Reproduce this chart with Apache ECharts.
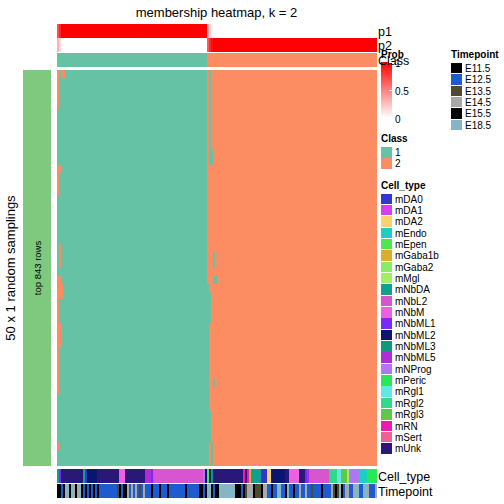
<!DOCTYPE html>
<html><head><meta charset="utf-8">
<script src="https://cdn.jsdelivr.net/npm/echarts@6/dist/echarts.min.js"></script>
<style>html,body{margin:0;padding:0;background:#fff}#c{width:504px;height:504px}#c svg path,#c svg rect{shape-rendering:crispEdges}</style>
</head><body><div id="c"></div>
<script>
const FONT = '"Liberation Sans", Arial, Helvetica, sans-serif';
const chartTitle = 'membership heatmap, k = 2';
const rowTitle = '50 x 1 random samplings';
const rowAnnotationLabel = 'top 843 rows';
const nRows = 50;

// per-sample (column) data, run-length encoded [value, count]
const p1Runs = [[0.7,1],[0.85,1],[1,73],[0.35,1],[0.15,1],[0.05,1],[0,82]];
const p2Runs = [[0.3,1],[0.15,1],[0,73],[0.65,1],[0.85,1],[0.95,1],[1,82]];
const classRuns = [[1,75],[2,85]];
// samplings whose class differs from consensus: [rowFrom,rowTo,colFrom,colTo,class]
const rowDeviations = [
  [0,4,0,0,2],[0,0,2,3,2],[12,12,0,1,2],[13,15,0,0,2],[22,24,1,1,2],[26,28,0,1,2],
  [27,28,2,2,2],[29,31,0,0,2],[32,34,0,1,2],[35,40,0,0,2],[47,47,0,0,2],
  [0,9,76,76,1],[10,11,76,77,1],[23,24,78,78,1],[26,26,78,79,1],[27,27,75,75,1],
  [28,31,75,76,1],[32,42,75,75,1],[39,39,78,78,1],[43,46,75,76,1],[47,49,75,75,1],[47,49,77,77,1]
];

const cellTypeNames = ['mDA0','mDA1','mDA2','mEndo','mEpen','mGaba1b','mGaba2','mMgl','mNbDA','mNbL2','mNbM','mNbML1','mNbML2','mNbML3','mNbML5','mNProg','mPeric','mRgl1','mRgl2','mRgl3','mRN','mSert','mUnk'];
const cellTypeColors = ['#3535CF','#D93DF0','#F8D26A','#19D0C4','#4EE84E','#D8B02E','#8BEB66','#A2F062','#0FA08E','#D855D0','#EE60E0','#7A2AF8','#0A1570','#109878','#B02CD8','#B078F0','#28E858','#62E8E4','#30DA8A','#60C848','#F01AB0','#F06098','#2A1878'];
const cellTypeRuns = [['mNbDA',1],['mNbML1',1],['mUnk',11],['mNbDA',1],['mDA0',1],['mNbML2',5],['mUnk',11],['mNbM',3],['mUnk',10],['mNbML5',3],['mNbML1',1],['mNbL2',25],['mNProg',1],['mNbML2',1],['mEpen',1],['mUnk',1],['mNbML3',1],['mUnk',15],['mRN',1],['mUnk',1],['mRN',1],['mGaba1b',1],['mNbDA',5],['mDA0',3],['mDA2',2],['mNbML2',7],['mUnk',2],['mNbM',5],['mUnk',3],['mNbML1',1],['mNbML5',1],['mNbL2',10],['mRgl2',4],['mRgl1',2],['mRgl3',3],['mMgl',1],['mNProg',5],['mEndo',4],['mPeric',5]];

const timepointNames = ['E11.5','E12.5','E13.5','E14.5','E15.5','E18.5'];
const timepointColors = ['#000000','#1F5BD0','#4F4B33','#A8A8A8','#060606','#84B6C6'];
const timepointRuns = [['E11.5',2],['E12.5',1],['E11.5',1],['E18.5',2],['E11.5',1],['E18.5',1],['E14.5',1],['E11.5',1],['E14.5',1],['E18.5',1],['E11.5',1],['E12.5',1],['E11.5',1],['E12.5',1],['E15.5',1],['E12.5',1],['E11.5',1],['E12.5',1],['E11.5',1],
 ['E12.5',9],['E13.5',1],['E11.5',1],['E12.5',1],['E11.5',2],['E14.5',1],['E12.5',1],['E14.5',1],['E12.5',1],['E14.5',1],['E12.5',1],['E13.5',1],['E12.5',1],['E14.5',1],['E12.5',3],['E11.5',1],['E12.5',3],['E15.5',1],['E12.5',3],['E11.5',1],['E12.5',8],['E11.5',1],['E12.5',6],['E11.5',2],['E12.5',1],['E11.5',1],['E18.5',2],['E11.5',1],['E12.5',1],['E11.5',2],['E18.5',8],['E11.5',3],['E12.5',1],['E11.5',1],['E13.5',1],['E14.5',3],['E11.5',1],['E13.5',3],['E11.5',1],['E14.5',2],
 ['E12.5',2],['E11.5',1],['E12.5',2],['E18.5',2],['E12.5',2],['E11.5',1],['E18.5',1],['E12.5',2],['E11.5',1],['E12.5',2],['E14.5',1],['E12.5',2],['E14.5',1],['E12.5',2],['E13.5',1],['E12.5',4],['E11.5',1],['E12.5',4],['E14.5',1],['E13.5',1],['E11.5',1],['E13.5',1],['E18.5',1],['E11.5',1],['E12.5',1],['E14.5',2],['E12.5',2],['E14.5',1],['E18.5',2],['E12.5',2],['E18.5',2],['E14.5',1],['E12.5',3],['E14.5',1]];

const classNames = ['1','2'];
const classColors = ['#66C2A5','#FC8D62'];
const rowAnnoColor = '#7FC97F';

function expand(runs){const out=[];runs.forEach(([v,n])=>{for(let i=0;i<n;i++)out.push(v);});return out;}
const p1 = expand(p1Runs), p2 = expand(p2Runs), cls = expand(classRuns);
const cellTypes = expand(cellTypeRuns), timepoints = expand(timepointRuns);
const N = cls.length;
const colCats = Array.from({length:N},(_,i)=>'c'+i);
const rowCats = Array.from({length:nRows},(_,i)=>'r'+i);
const M = rowCats.map(()=>cls.slice());
rowDeviations.forEach(([r0,r1,c0,c1,k])=>{for(let r=r0;r<=r1;r++)for(let c=c0;c<=c1;c++)M[r][c]=k;});

// white -> red ramp for membership probability
function probColor(p){const g=Math.round(255*(1-p));return 'rgb(255,'+g+','+g+')';}
const cell=(x,y,v,color)=>({value:[x,y,v],itemStyle:{color,borderWidth:0}});

const probData=[]; for(let c=0;c<N;c++){probData.push(cell(c,0,p1[c],probColor(p1[c])));probData.push(cell(c,1,p2[c],probColor(p2[c])));}
const classData=cls.map((v,c)=>cell(c,0,v,classColors[v-1]));
const bodyData=[]; M.forEach((row,r)=>row.forEach((v,c)=>bodyData.push(cell(c,r,v,classColors[v-1]))));
const ctData=cellTypes.map((v,c)=>{const k=cellTypeNames.indexOf(v);return cell(c,0,k,cellTypeColors[k]);});
const tpData=timepoints.map((v,c)=>{const k=timepointNames.indexOf(v);return cell(c,0,k,timepointColors[k]);});
const rowAnnoData=[cell(0,0,1,rowAnnoColor)];

const L=57, W=320;
const grids=[
  {left:L,width:W,top:24,height:28},
  {left:L,width:W,top:53,height:14},
  {left:L,width:W,top:70,height:396},
  {left:L,width:W,top:469,height:14},
  {left:L,width:W,top:484,height:14},
  {left:23,width:28,top:70,height:396}
];
const xAxes=grids.map((g,i)=>({type:'category',gridIndex:i,data:i===5?['a']:colCats,show:false}));
const yAxes=grids.map((g,i)=>({type:'category',gridIndex:i,inverse:true,show:false,
  data:i===0?['p1','p2']:(i===2?rowCats:['a'])}));
const hm=(i,data)=>({type:'heatmap',xAxisIndex:i,yAxisIndex:i,data,progressive:0,
  emphasis:{disabled:true},silent:true,z:2});

const graphic=[];
const txt=(x,y,text,size,opts={})=>graphic.push(Object.assign({type:'text',x,y,silent:true,z:100,
  style:{text,font:(opts.bold?'bold ':'')+size+'px '+FONT,fill:'#000',align:opts.align||'left',verticalAlign:'middle'}},opts.rot?{rotation:opts.rot}:{}));
const box=(x,y,w,h,color)=>graphic.push({type:'rect',silent:true,z:100,shape:{x,y,width:w,height:h},style:{fill:color}});

txt(216.5,12,chartTitle,13,{align:'center'});
txt(10,268,rowTitle,13,{align:'center',rot:Math.PI/2});
txt(37,268,rowAnnotationLabel,9.5,{align:'center',rot:Math.PI/2});
txt(378,32,'p1',12.5);
txt(378,46,'p2',12.5);
txt(378,61,'Class',12.5);
txt(378,477,'Cell_type',12.5);
txt(378,492,'Timepoint',12.5);

// Prob legend
txt(381,54,'Prob',10,{bold:true});
graphic.push({type:'rect',silent:true,z:99,shape:{x:381,y:62,width:11,height:56},
  style:{fill:new echarts.graphic.LinearGradient(0,0,0,1,[{offset:0,color:'#FF0000'},{offset:1,color:'#FFFFFF'}])}});
[[62,'1'],[90,'0.5'],[118,'0']].forEach(([y,t])=>{
  graphic.push({type:'line',silent:true,z:100,shape:{x1:389,y1:y,x2:392,y2:y},style:{stroke:'#fff',lineWidth:1}});
  txt(395,y+1,t,10);
});
// Class legend
txt(381,138,'Class',10,{bold:true});
classNames.forEach((n,i)=>{box(381,147+i*11.3,11,10.5,classColors[i]);txt(395,152.5+i*11.3,n,10);});
// Cell_type legend
txt(381,185,'Cell_type',10,{bold:true});
cellTypeNames.forEach((n,i)=>{const y=193.5+i*11.35;box(381,y,11,10.5,cellTypeColors[i]);txt(395,y+5.5,n,10);});
// Timepoint legend
txt(451,54,'Timepoint',10,{bold:true});
timepointNames.forEach((n,i)=>{const y=62.8+i*11.35;box(451,y,11,10.5,timepointColors[i]);txt(465,y+5.5,n,10);});

const option={
  animation:false,
  grid:grids,
  xAxis:xAxes,
  yAxis:yAxes,
  series:[hm(0,probData),hm(1,classData),hm(2,bodyData),hm(3,ctData),hm(4,tpData),hm(5,rowAnnoData)],
  graphic:{elements:graphic}
};
const chart=echarts.init(document.getElementById('c'),null,{renderer:'svg'});
chart.setOption(option);
</script></body></html>
